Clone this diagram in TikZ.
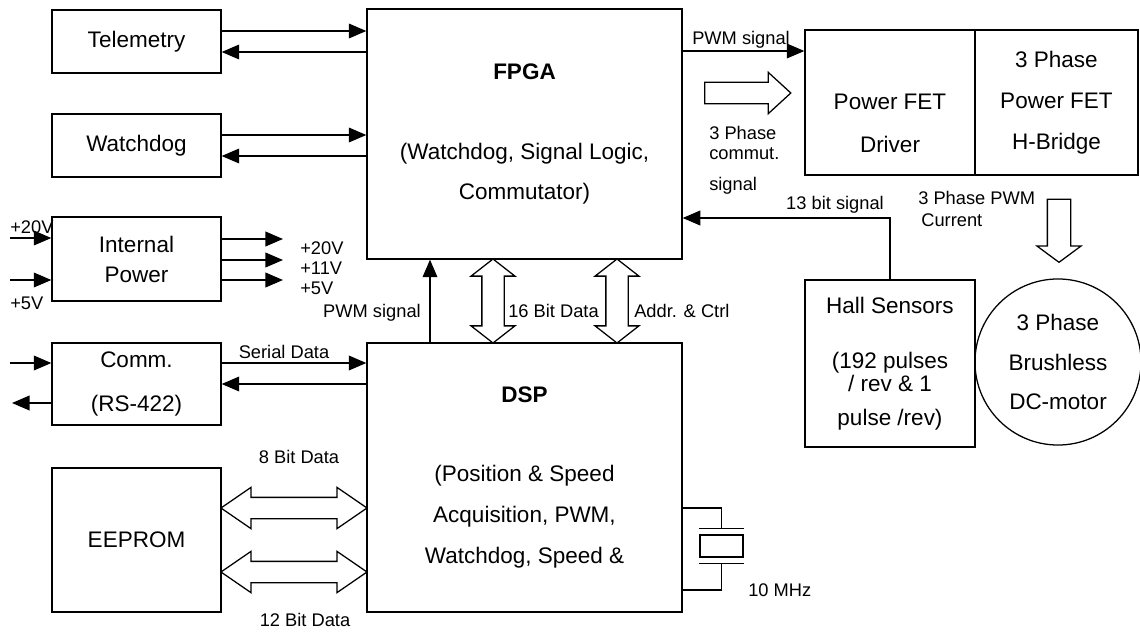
\documentclass[tikz,border=0pt]{standalone}
\usepackage{fontspec}
\setmainfont{Liberation Sans}
\usepackage{tikz}
\usetikzlibrary{shapes.geometric,shapes.arrows,arrows.meta,positioning,calc}
\tikzset{
  unit/.style={rectangle, draw=black, line width=0.9pt, inner sep=0pt,
               align=center, font=\fontsize{16}{19}\selectfont},
  sidebox/.style={unit, minimum width=4.225cm},
  sigtext/.style={inner sep=0pt, align=left, font=\fontsize{13}{14.2}\selectfont},
  flow/.style={-{Triangle[length=12.5pt,width=10.5pt]}, line width=0.9pt},
  wire/.style={line width=0.9pt},
  bus/.style={double arrow, draw=black, line width=0.9pt, fill=white,
              inner sep=0pt, text depth=0pt, double arrow head indent=0pt},
  feed/.style={single arrow, draw=black, line width=0.9pt, fill=white,
               inner sep=0pt, text depth=0pt, single arrow head indent=0pt},
}

\begin{document}
\begin{tikzpicture}[x=0.025cm, y=-0.025cm]

\useasboundingbox (0,0) rectangle (1140,632);

%% Bus x-positions (FPGA <-> DSP)
\def\xPWM{430}  % PWM signal
\def\xDB{493}   % 16 bit data
\def\xAC{617}   % addr & ctrl

%% ── left column ─────────────────────────────────────────────────────────
\node[sidebox, minimum height=1.575cm] (tele) at (136.5,41.5) {Telemetry};
\node[sidebox, minimum height=1.575cm] (wdog) at (136.5,145.5) {Watchdog};
\node[sidebox, minimum height=2.1cm, font=\fontsize{16}{21.3}\selectfont]
     (power) at (136.5,259) {Internal\\Power};
\node[sidebox, minimum height=2.05cm, font=\fontsize{16}{31.3}\selectfont]
     (comm) at (136.5,384) {Comm.\\(RS-422)};
\node[sidebox, minimum height=3.6cm] (eeprom) at (136.5,540) {EEPROM};

%% ── processors ──────────────────────────────────────────────────────────
\node[unit, minimum width=7.875cm, minimum height=6.25cm,
      font=\fontsize{16}{28.4}\selectfont] (fpga) at (524.5,134)
     {\textbf{FPGA}\\[28pt](Watchdog, Signal Logic,\\Commutator)};
\node[unit, minimum width=7.875cm, minimum height=6.725cm,
      font=\fontsize{16}{29}\selectfont] (dsp) at (524.5,477.5)
     {\textbf{DSP}\\[27pt](Position \& Speed\\Acquisition, PWM,\\Watchdog, Speed \&};

%% ── power stage & motor ─────────────────────────────────────────────────
\node[unit, minimum width=4.25cm, minimum height=3.625cm] (driver) at (890,102.5) {};
\node[align=center, inner sep=0pt, font=\fontsize{16}{30.6}\selectfont]
     at ([yshift=-0.51cm]driver.center) {Power FET\\Driver};
\node[unit, minimum width=4.075cm, minimum height=3.625cm,
      font=\fontsize{16}{29}\selectfont] (bridge) at (1056.5,102.5)
     {3 Phase\\Power FET\\H-Bridge};
\node[unit, minimum width=4.25cm, minimum height=4.175cm,
      font=\fontsize{16}{16.4}\selectfont] (hall) at (890,363.5)
     {Hall Sensors\\[22.8pt](192 pulses\\/ rev \& 1\\[7.8pt]pulse /rev)};
\node[circle, draw=black, line width=0.9pt, inner sep=0pt, minimum size=4.15cm,
      align=center, font=\fontsize{16}{28.4}\selectfont] (motor) at (1058,362)
     {3 Phase\\Brushless\\DC-motor};

%% Crystal
\node[draw=black, line width=0.9pt, inner sep=0pt, minimum width=1.075cm,
      minimum height=0.55cm] (xtal) at (721.5,546) {};
\draw[wire] ([yshift=0.15cm]xtal.north west) -- ([yshift=0.15cm]xtal.north east);
\draw[wire] ([yshift=-0.15cm]xtal.south west) -- ([yshift=-0.15cm]xtal.south east);
\draw[wire] (dsp.east |- 0,508) -| ([yshift=0.15cm]xtal.north);
\draw[wire] (dsp.east |- 0,590) -| ([yshift=-0.15cm]xtal.south);
\node[sigtext, anchor=west] at (748,590) {10 MHz};

%% ── telemetry / watchdog links ──────────────────────────────────────────
\draw[flow] (tele.east |- 0,31) -- (fpga.west |- 0,31);
\draw[flow] (fpga.west |- 0,52) -- (tele.east |- 0,52);
\draw[flow] (wdog.east |- 0,135) -- (fpga.west |- 0,135);
\draw[flow] (fpga.west |- 0,156) -- (wdog.east |- 0,156);

%% ── power in / out ──────────────────────────────────────────────────────
\coordinate (vin20) at (10,238);
\coordinate (vin5)  at (10,280);
\draw[flow] (vin20) -- (power.west |- vin20);
\draw[flow] (vin5) -- (power.west |- vin5);
\node[sigtext, anchor=west] at (10,227) {+20V};
\node[sigtext, anchor=west] at (10,303) {+5V};

\coordinate (vout20) at (283,239);
\coordinate (vout11) at (283,260);
\coordinate (vout5)  at (283,280);
\draw[flow] (power.east |- vout20) -- (vout20);
\draw[flow] (power.east |- vout11) -- (vout11);
\draw[flow] (power.east |- vout5) -- (vout5);
\node[sigtext, anchor=west] at (300,268) {+20V\\+11V\\+5V};

%% ── communication ───────────────────────────────────────────────────────
\coordinate (rxin)  at (10,363);
\coordinate (txout) at (12,403);
\draw[flow] (rxin) -- (comm.west |- rxin);
\draw[flow] (comm.west |- txout) -- (txout);
\draw[flow] (comm.east |- 0,363) -- (dsp.west |- 0,363);
\draw[flow] (dsp.west |- 0,384) -- (comm.east |- 0,384);
\node[sigtext] at (284,352) {Serial Data};

%% ── EEPROM buses ────────────────────────────────────────────────────────
\node[bus, text height=0.5cm, minimum height=3.65cm, double arrow head extend=0.25cm,
      double arrow tip angle=69] (bus8)
     at ($(eeprom.east |- 0,508)!0.5!(dsp.west |- 0,508)$) {};
\node[bus, text height=0.5cm, minimum height=3.65cm, double arrow head extend=0.25cm,
      double arrow tip angle=69] (bus12)
     at ($(eeprom.east |- 0,572)!0.5!(dsp.west |- 0,572)$) {};
\node[sigtext] at (299,457) {8 Bit Data};
\node[sigtext] at (305,620) {12 Bit Data};

%% ── FPGA <-> DSP ────────────────────────────────────────────────────────
\draw[flow] (dsp.north -| \xPWM,0) -- (fpga.south -| \xPWM,0);
\node[sigtext] at (372,313) {PWM signal};
\node[bus, rotate=90, text height=0.525cm, minimum height=2.1cm,
      double arrow head extend=0.27cm, double arrow tip angle=104] (bus16)
     at ($(fpga.south -| \xDB,0)!0.5!(dsp.north -| \xDB,0)$) {};
\node[bus, rotate=90, text height=0.525cm, minimum height=2.1cm,
      double arrow head extend=0.27cm, double arrow tip angle=104] (busac)
     at ($(fpga.south -| \xAC,0)!0.5!(dsp.north -| \xAC,0)$) {};
\node[sigtext, anchor=west] at (508,311) {16 Bit Data};
\node[sigtext, anchor=west] at (634,311) {Addr. \& Ctrl};

%% ── FPGA -> power stage ─────────────────────────────────────────────────
\draw[flow] (fpga.east |- 0,51) -- (driver.west |- 0,51);
\node[sigtext, anchor=base west] at (692,44) {PWM signal};
\node[feed, text height=0.5cm, minimum height=2.15cm, single arrow head extend=0.25cm,
      single arrow tip angle=85] (commut) at (742,93) {};
\node[sigtext, anchor=west] at (709,160) {3 Phase\\commut.\\[8pt]signal};

%% ── feedback & motor current ────────────────────────────────────────────
\draw[flow] (hall.north) |- (fpga.east |- 0,218);
\node[sigtext] at (835,205) {13 bit signal};
\node[feed, rotate=-90, text height=0.55cm, minimum height=1.575cm,
      single arrow head extend=0.26cm, single arrow tip angle=107] (phase)
     at (1059,226.5) {};
\node[sigtext, font=\fontsize{13}{15.6}\selectfont, anchor=west] at (918,209)
     {3 Phase PWM\\\,Current};

\end{tikzpicture}
\end{document}
